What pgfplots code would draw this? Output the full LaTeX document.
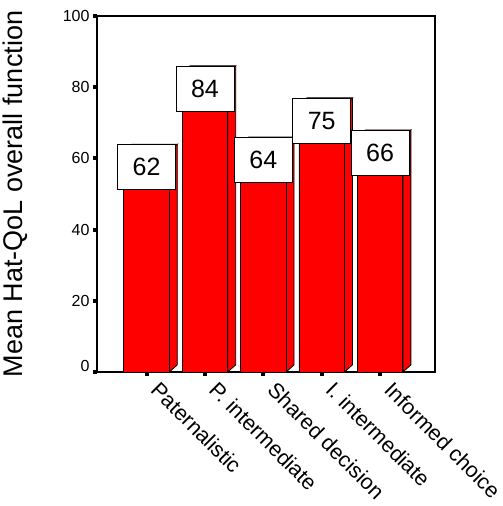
\documentclass[border=0pt]{standalone}
\usepackage{pgfplots}
\pgfplotsset{compat=1.18}
\usepackage{fontspec}
\setmainfont{Liberation Sans}
\begin{document}
\begin{tikzpicture}[x=1pt,y=1pt]
\useasboundingbox (-97,-134) rectangle (406,372);
\begin{axis}[
  at={(0,0)}, anchor=south west,
  scale only axis, width=338pt, height=356pt,
  xmin=-0.848, xmax=4.94, ymin=0, ymax=100,
  axis line style={line width=1.2pt},
  xtick={0,1,2,3,4},
  xticklabels={Paternalistic, P. intermediate, Shared decision, I. intermediate, Informed choice},
  ytick={20,40,60,80,100},
  extra y ticks={0},
  extra y tick style={yticklabel style={yshift=6pt}},
  tick pos=left,
  tick align=outside, major tick length=4pt,
  tick style={line width=4pt, black},
  xticklabel style={xshift=14pt, yshift=-3pt, rotate=-45, anchor=north west, font=\fontsize{21.5}{21.5}\selectfont, inner sep=1pt},
  yticklabel style={font=\fontsize{16}{16}\selectfont},
  /pgf/number format/assume math mode=true,
  ylabel={Mean Hat-QoL overall function},
  ylabel style={at={(axis description cs:-0.2426,0.5)}, anchor=center, font=\fontsize{27}{27}\selectfont},
  clip=false,
]
% side and top faces (depth offset)
\addplot[fill=red, draw=black, line width=0.8pt] coordinates {(-0.39,62) (-0.253,64) (0.527,64) (0.527,2) (0.39,0) (0.39,62) (0.527,64)} -- cycle;
\addplot[fill=red, draw=black, line width=0.8pt] coordinates {(0.61,84) (0.747,86) (1.527,86) (1.527,2) (1.39,0) (1.39,84) (1.527,86)} -- cycle;
\addplot[fill=red, draw=black, line width=0.8pt] coordinates {(1.61,64) (1.747,66) (2.527,66) (2.527,2) (2.39,0) (2.39,64) (2.527,66)} -- cycle;
\addplot[fill=red, draw=black, line width=0.8pt] coordinates {(2.61,75) (2.747,77) (3.527,77) (3.527,2) (3.39,0) (3.39,75) (3.527,77)} -- cycle;
\addplot[fill=red, draw=black, line width=0.8pt] coordinates {(3.61,66) (3.747,68) (4.527,68) (4.527,2) (4.39,0) (4.39,66) (4.527,68)} -- cycle;
% front faces
\addplot[ybar, bar width=0.78, bar shift=0, fill=red, draw=black, line width=0.8pt]
  coordinates {(0,62) (1,84) (2,64) (3,75) (4,66)};
% value labels
\addplot[draw=none, mark=none, nodes near coords, point meta=y,
  nodes near coords style={anchor=north, yshift=7pt, draw=black, fill=white, line width=0.8pt,
    minimum width=58pt, minimum height=45pt, inner sep=0pt, font=\fontsize{25}{25}\selectfont}]
  coordinates {(0,62) (1,84) (2,64) (3,75) (4,66)};
\end{axis}
\end{tikzpicture}
\end{document}
